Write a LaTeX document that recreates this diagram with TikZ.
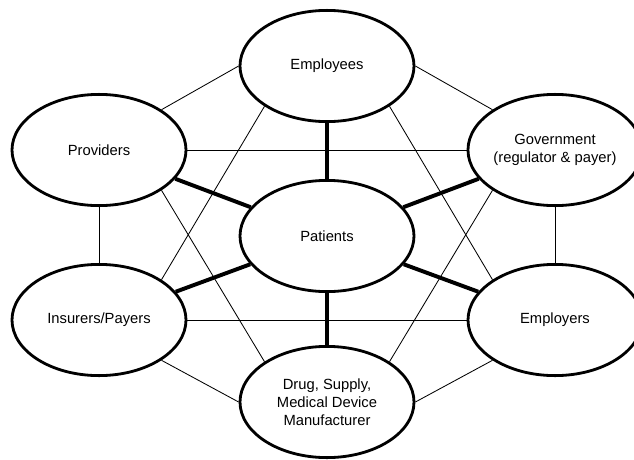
\documentclass[tikz,border=0pt]{standalone}
\usepackage{fontspec}
\setmainfont{Liberation Sans}
\usetikzlibrary{shapes.geometric}

\tikzset{
	party/.style={ellipse, draw, line width=2pt, fill=white, minimum width=4.35cm, minimum height=2.78cm, inner sep=0pt, align=center, font=\fontsize{10.5}{12.8}\selectfont},
	link/.style={line width=0.6pt},
	hub/.style={line width=2.8pt}
}

\begin{document}
\begin{tikzpicture}

	\useasboundingbox (0,0) rectangle (15.85,11.475);

	\node [party] (employees) at (8.175,9.825) {Employees};
	\node [party] (providers) at (2.475,7.725) {Providers};
	\node [party] (government) at (13.875,7.725) {Government\\(regulator \& payer)};
	\node [party] (patients) at (8.175,5.575) {Patients};
	\node [party] (insurers) at (2.475,3.475) {Insurers/Payers};
	\node [party] (employers) at (13.875,3.475) {Employers};
	\node [party] (drug) at (8.175,1.425) {Drug, Supply,\\Medical Device\\Manufacturer};

	% outer ring
	\draw [link] (employees.west) -- (providers.north east);
	\draw [link] (employees.east) -- (government.north west);
	\draw [link] (providers) -- (insurers);
	\draw [link] (government) -- (employers);
	\draw [link] (insurers.south east) -- (drug.west);
	\draw [link] (employers.south west) -- (drug.east);

	% crossing lines
	\draw [link] (employees.south west) -- (insurers.north east);
	\draw [link] (employees.south east) -- (employers.north west);
	\draw [link] (providers) -- (government);
	\draw [link] (insurers) -- (employers);
	\draw [link] (providers.south east) -- (drug.north west);
	\draw [link] (government.south west) -- (drug.north east);

	% spokes to the centre
	\draw [hub] (patients) -- (employees);
	\draw [hub] (patients) -- (providers);
	\draw [hub] (patients) -- (government);
	\draw [hub] (patients) -- (insurers);
	\draw [hub] (patients) -- (employers);
	\draw [hub] (patients) -- (drug);
\end{tikzpicture}
\end{document}
